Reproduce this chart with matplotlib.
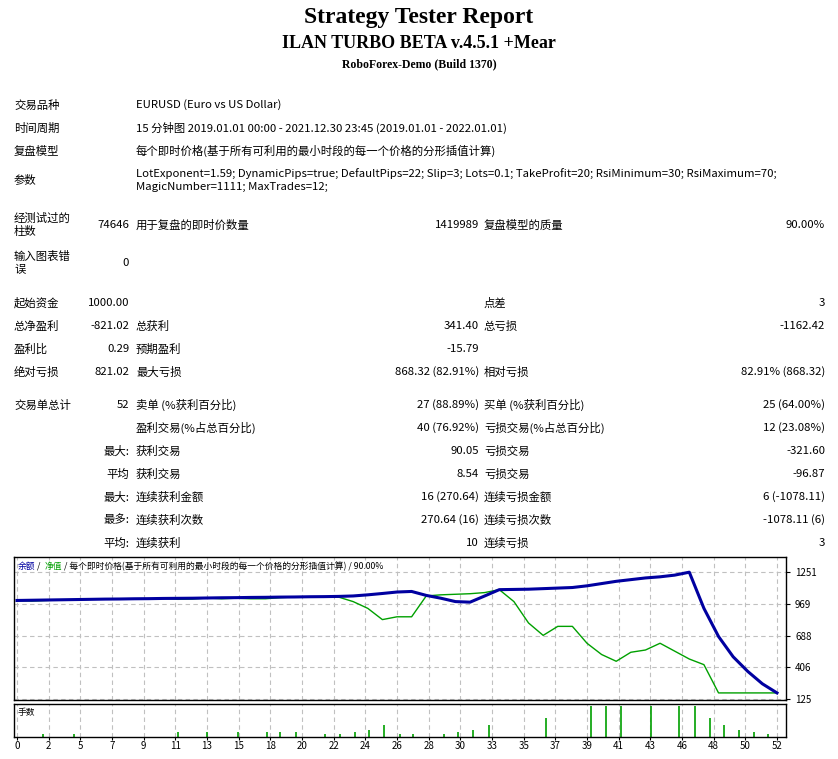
import matplotlib.pyplot as plt

W, H = 838, 759
CJK = ['Noto Sans CJK SC', 'DejaVu Sans']
plt.rcParams['font.family'] = CJK

# ---- data ----
trades = list(range(53))
balance = [1000, 1002, 1004, 1006, 1008, 1010, 1012, 1013, 1015, 1016, 1018, 1019, 1020, 1022,
           1024, 1025, 1027, 1028, 1030, 1031, 1033, 1034, 1036, 1040, 1050, 1062, 1075, 1080,
           1045, 1020, 990, 985, 1040, 1096, 1098, 1100, 1105, 1110, 1115, 1130, 1150, 1170,
           1185, 1200, 1210, 1225, 1251, 930, 680, 500, 370, 260, 179]
equity = [1000, 995, 1000, 1004, 1006, 1010, 1012, 1013, 1015, 1012, 1018, 1010, 1012, 1022,
          1015, 1020, 1015, 1015, 1025, 1031, 1033, 1034, 1030, 990, 930, 830, 855, 855,
          1040, 1050, 1055, 1060, 1070, 1096, 990, 800, 690, 770, 770, 620, 520, 460,
          540, 560, 620, 550, 480, 430, 179, 179, 179, 179, 179]
lot_pos = [1.8, 3.9, 11.0, 13.0, 15.1, 17.1, 18.0, 19.1, 21.1, 22.1, 23.1, 24.1, 25.1, 26.2,
           27.1, 29.2, 30.2, 31.2, 32.3, 36.2, 39.3, 40.3, 41.3, 43.4, 45.3, 46.4, 47.4, 48.4,
           49.4, 50.4, 51.4]
lots = [0.1, 0.1, 0.16, 0.16, 0.16, 0.16, 0.16, 0.16, 0.1, 0.1, 0.16, 0.25, 0.41, 0.1,
        0.1, 0.1, 0.16, 0.25, 0.41, 0.64, 1.02, 1.02, 1.02, 1.02, 1.02, 1.02, 0.64, 0.41,
        0.25, 0.16, 0.1]
xlabels = ['0', '2', '5', '7', '9', '11', '13', '15', '18', '20', '22', '24', '26', '28', '30',
           '33', '35', '37', '39', '41', '43', '46', '48', '50', '52']
yticks = [125, 406, 688, 969, 1251]

labels1 = ['交易品种', '时间周期', '复盘模型']
values1 = ['EURUSD (Euro vs US Dollar)',
           '15 分钟图 2019.01.01 00:00 - 2021.12.30 23:45 (2019.01.01 - 2022.01.01)',
           '每个即时价格(基于所有可利用的最小时段的每一个价格的分形插值计算)']
params = ['LotExponent=1.59; DynamicPips=true; DefaultPips=22; Slip=3; Lots=0.1; TakeProfit=20; RsiMinimum=30; RsiMaximum=70;',
          'MagicNumber=1111; MaxTrades=12;']

fig = plt.figure(figsize=(W / 100, H / 100), dpi=100)
fig.patch.set_facecolor('white')


def t(x, y, s, ha='left', size=8.2, **kw):
    fig.text(x / W, 1 - y / H, s, ha=ha, va='center', fontsize=size, **kw)


serif = ['Liberation Serif', 'DejaVu Serif']
t(419, 17, 'Strategy Tester Report', ha='center', size=17, weight='bold', family=serif)
t(419, 44, 'ILAN TURBO BETA v.4.5.1 +Mear', ha='center', size=13, weight='bold', family=serif)
t(419, 64, 'RoboForex-Demo (Build 1370)', ha='center', size=8.5, weight='bold', family=serif)

for i, (a, b) in enumerate(zip(labels1, values1)):
    y = 105 + i * 23
    t(14, y, a)
    t(136, y, b)
t(14, 180, '参数')
t(136, 174, params[0])
t(136, 187, params[1])

t(14, 218, '经测试过的')
t(14, 232, '柱数')
t(129, 225, '74646', ha='right')
t(136, 225, '用于复盘的即时价数量')
t(479, 225, '1419989', ha='right')
t(484, 225, '复盘模型的质量')
t(825, 225, '90.00%', ha='right')
t(14, 256, '输入图表错')
t(14, 270, '误')
t(129, 263, '0', ha='right')

rows = [
    (303, '起始资金', '1000.00', '', '', '点差', '3'),
    (326, '总净盈利', '-821.02', '总获利', '341.40', '总亏损', '-1162.42'),
    (349, '盈利比', '0.29', '预期盈利', '-15.79', '', ''),
    (372, '绝对亏损', '821.02', '最大亏损', '868.32 (82.91%)', '相对亏损', '82.91% (868.32)'),
    (405, '交易单总计', '52', '卖单 (%获利百分比)', '27 (88.89%)', '买单 (%获利百分比)', '25 (64.00%)'),
    (428, '', '', '盈利交易(%占总百分比)', '40 (76.92%)', '亏损交易(%占总百分比)', '12 (23.08%)'),
    (451, '', '最大:', '获利交易', '90.05', '亏损交易', '-321.60'),
    (474, '', '平均', '获利交易', '8.54', '亏损交易', '-96.87'),
    (497, '', '最大:', '连续获利金额', '16 (270.64)', '连续亏损金额', '6 (-1078.11)'),
    (520, '', '最多:', '连续获利次数', '270.64 (16)', '连续亏损次数', '-1078.11 (6)'),
    (543, '', '平均:', '连续获利', '10', '连续亏损', '3'),
]
for y, a, av, b, bv, c, cv in rows:
    t(14, y, a)
    t(129, y, av, ha='right')
    t(136, y, b)
    t(479, y, bv, ha='right')
    t(484, y, c)
    t(825, y, cv, ha='right')

# ---- chart ----
x0, x1 = 14, 786
ax = fig.add_axes([x0 / W, 1 - 700 / H, (x1 - x0) / W, 143 / H])
av = fig.add_axes([x0 / W, 1 - 737 / H, (x1 - x0) / W, 33 / H])
xlim = (-3 / 14.6, 52 + 9 / 14.6)
ticks = [i * 52 / 24 for i in range(25)]

ax.plot(trades, equity, color='#00a000', lw=1)
ax.plot(trades, balance, color='#0000a0', lw=2.2)
ax.set_xlim(*xlim)
ax.set_ylim(125 - 1 * 8.88, 125 + 142 * 8.88)
ax.set_yticks(yticks)
ax.yaxis.tick_right()
ax.set_xticks(ticks)
ax.set_xticklabels([])
ax.tick_params(axis='x', length=0)
ax.tick_params(axis='y', labelsize=7, length=3)
ax.grid(True, ls=(0, (4, 3)), color='#c0c0c0', lw=0.8)

av.vlines(lot_pos, 0, lots, color='#00a000', lw=1.2)
av.set_xlim(*xlim)
av.set_ylim(0, 1.1)
av.set_yticks([])
av.set_xticks(ticks)
av.set_xticklabels(xlabels)
av.tick_params(axis='x', labelsize=7, length=2, pad=1)
av.grid(True, axis='x', ls=(0, (4, 3)), color='#c0c0c0', lw=0.8)
for a in (ax, av):
    for s in a.spines.values():
        s.set_linewidth(1.0)

t(18, 566, '余额', size=6.3, color='#0000a0')
t(37, 566, '/', size=6.3)
t(45, 566, '净值', size=6.3, color='#00a000')
t(64, 566, '/ 每个即时价格(基于所有可利用的最小时段的每一个价格的分形插值计算) / 90.00%', size=6.3)
t(18, 712, '手数', size=6.3)

fig.savefig('out.png', dpi=100)
